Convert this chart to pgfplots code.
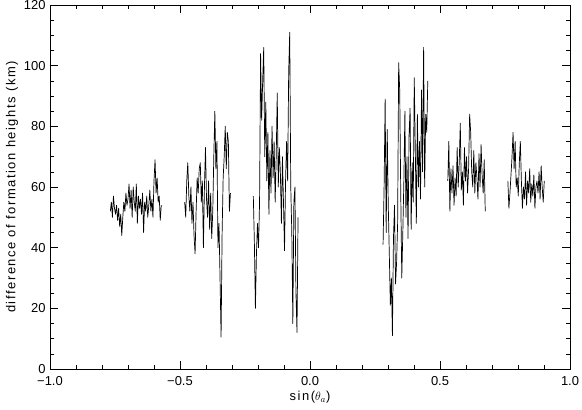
\documentclass[border=0pt]{standalone}
\usepackage{fontspec}
\setmainfont{Liberation Sans}
\usepackage{pgfplots}
\pgfplotsset{compat=1.18}
\tikzset{trace/.style={black, line width=0.7bp, line join=round, mark=none}}
\begin{document}
\begin{tikzpicture}
\begin{axis}[
  scale only axis, width=520bp, height=364bp,
  xmin=-1, xmax=1, ymin=0, ymax=120,
  xtick={-1,-0.5,0,0.5,1},
  xticklabels={−1.0,−0.5,0.0,0.5,1.0},
  minor x tick num=4,
  ytick={0,20,40,60,80,100,120},
  minor y tick num=3,
  /pgf/number format/assume math mode=true,
  tick align=inside,
  major tick length=8bp, minor tick length=4bp,
  tick style={black, line width=0.5bp},
  axis line style={line width=0.6bp},
  ticklabel style={font=\fontsize{13}{15}\selectfont},
  xticklabel style={yshift=-4bp},
  yticklabel style={xshift=-1bp},
  label style={font=\fontsize{13}{15}\selectfont\addfontfeatures{LetterSpace=12}},
  xlabel={sin($\theta_a$)},
  ylabel={difference of formation heights (km)},
  xlabel style={at={(axis description cs:0.5,0)}, anchor=center, yshift=-28bp},
  ylabel style={at={(axis description cs:0,0.5)}, anchor=center, yshift=38bp},
]
\coordinate (ll) at (rel axis cs:0,0);
\coordinate (ur) at (rel axis cs:1,1);
\addplot[trace] table {
-0.768 52
-0.764 55
-0.760 50
-0.756 57
-0.752 53
-0.748 51
-0.744 54
-0.740 49
-0.736 53
-0.732 47
-0.728 51
-0.724 44
-0.720 50
-0.716 55
-0.712 52
-0.708 58
-0.704 54
-0.700 56
-0.696 61
-0.692 53
-0.688 59
-0.684 50
-0.680 60
-0.676 55
-0.672 52
-0.668 61
-0.664 48
-0.660 57
-0.656 53
-0.652 56
-0.648 51
-0.644 58
-0.640 45
-0.636 55
-0.632 52
-0.628 57
-0.624 50
-0.620 54
-0.616 59
-0.612 52
-0.608 56
-0.604 50
-0.600 62
-0.596 69
-0.592 58
-0.588 63
-0.584 55
-0.580 57
-0.576 49
-0.572 54
};
\addplot[trace] table {
-0.482 55
-0.478 50
-0.474 62
-0.470 68
-0.466 57
-0.462 52
-0.458 60
-0.454 48
-0.450 55
-0.446 44
-0.442 38
-0.438 52
-0.434 63
-0.430 58
-0.426 66
-0.422 68
-0.418 55
-0.414 62
-0.410 40
-0.406 60
-0.402 73
-0.398 56
-0.394 50
-0.390 62
-0.386 46
-0.382 58
-0.378 43
-0.374 52
-0.370 70
-0.366 85
-0.362 66
-0.358 75
-0.354 40
-0.350 48
-0.346 30
-0.342 10.5
-0.338 45
-0.334 63
-0.330 70
-0.326 80
-0.322 66
-0.318 78
-0.314 75
-0.310 52
-0.306 58
};
\addplot[trace] table {
-0.218 57
-0.214 42
-0.210 20
-0.206 38
-0.202 48
-0.198 40
-0.194 55
-0.190 104
-0.186 82
-0.182 95
-0.178 106
-0.174 70
-0.170 88
-0.166 62
-0.162 78
-0.158 51
-0.154 72
-0.150 58
-0.146 80
-0.142 63
-0.138 75
-0.134 55
-0.130 70
-0.126 91
-0.122 60
-0.118 73
-0.114 65
-0.110 48
-0.106 70
-0.102 55
-0.098 39
-0.094 62
-0.090 75
-0.086 62
-0.082 98
-0.078 111
-0.074 60
-0.070 45
-0.066 15
-0.062 55
-0.058 60
-0.054 25
-0.050 12
-0.046 50
};
\addplot[trace] table {
0.281 41
0.285 60
0.289 89
0.293 45
0.297 79
0.301 54
0.305 38
0.309 21
0.313 30
0.317 11
0.321 43
0.325 54
0.329 28
0.333 35
0.337 48
0.341 101
0.345 92
0.349 58
0.353 30
0.357 45
0.361 62
0.365 85
0.369 50
0.373 70
0.377 43
0.381 77
0.385 86
0.389 46
0.393 68
0.397 55
0.401 96
0.405 72
0.409 48
0.413 84
0.417 60
0.421 75
0.425 56
0.429 92
0.433 65
0.437 106
0.441 60
0.445 84
0.449 78
0.453 95
};
\addplot[trace] table {
0.530 62
0.534 75
0.538 52
0.542 66
0.546 58
0.550 67
0.554 54
0.558 63
0.562 57
0.566 73
0.570 60
0.574 68
0.578 81
0.582 59
0.586 65
0.590 54
0.594 73
0.598 62
0.602 70
0.606 58
0.610 66
0.614 84
0.618 78
0.622 65
0.626 60
0.630 72
0.634 58
0.638 68
0.642 63
0.646 56
0.650 71
0.654 60
0.658 74
0.662 64
0.666 58
0.670 69
0.674 52
};
\addplot[trace] table {
0.761 62
0.765 53
0.769 58
0.773 64
0.777 70
0.781 78
0.785 66
0.789 75
0.793 60
0.797 63
0.801 57
0.805 68
0.809 75
0.813 62
0.817 53
0.821 60
0.825 56
0.829 65
0.833 54
0.837 62
0.841 58
0.845 66
0.849 55
0.853 61
0.857 57
0.861 64
0.865 53
0.869 60
0.873 62
0.877 58
0.881 65
0.885 56
0.889 67
0.893 60
0.897 55
0.901 62
};
\end{axis}
\pgfresetboundingbox
\path ([shift={(-50bp,-41bp)}]ll) rectangle ([shift={(12bp,5bp)}]ur);
\end{tikzpicture}
\end{document}
